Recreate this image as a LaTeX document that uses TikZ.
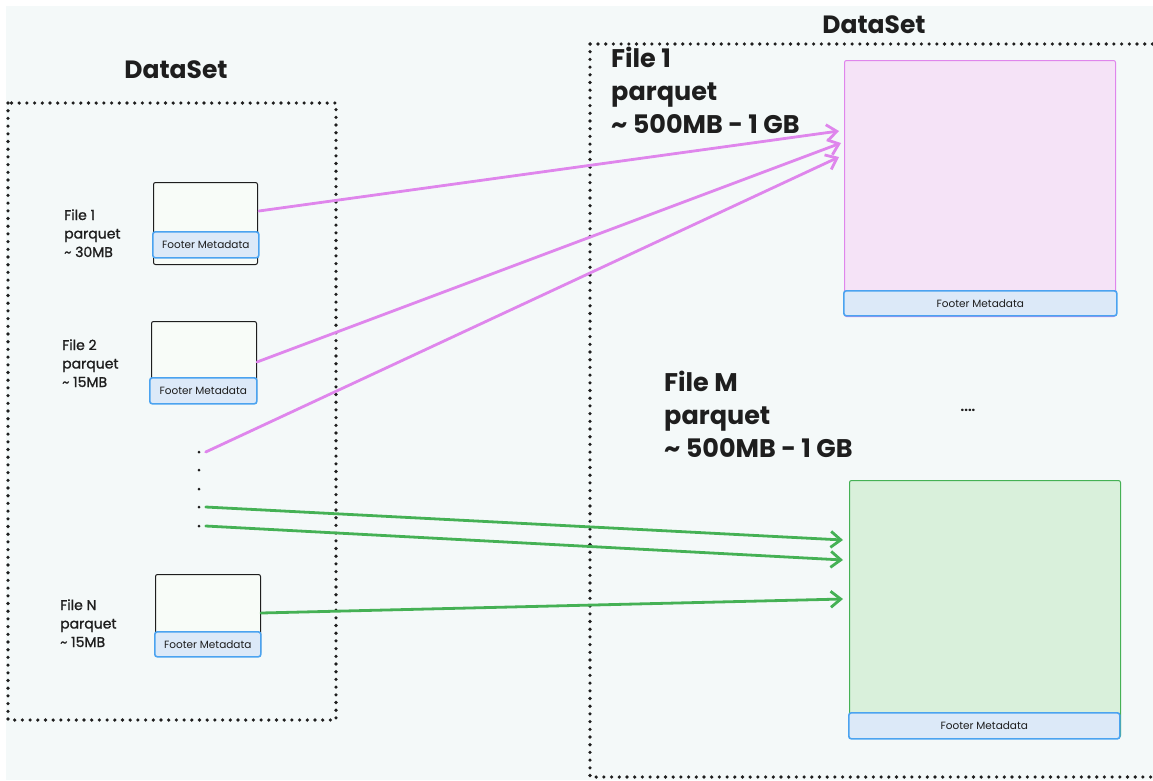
\documentclass[tikz,border=0pt]{standalone}
\usepackage{fontspec}
\setmainfont{Poppins}
\newfontfamily\labelfont{Poppins}[FakeBold=1.2]
\usetikzlibrary{arrows.meta,calc}
\definecolor{canvas}{HTML}{F4F9F9}
\definecolor{ink}{HTML}{1E1E1E}
\definecolor{filefill}{HTML}{F8FCF8}
\definecolor{footfill}{HTML}{DCE9F8}
\definecolor{footline}{HTML}{4BA3F0}
\definecolor{pinkline}{HTML}{DF86EC}
\definecolor{pinkfill}{HTML}{F5E3F7}
\definecolor{greenline}{HTML}{45B155}
\definecolor{greenfill}{HTML}{D9F0DB}
\begin{document}
\begin{tikzpicture}[x=1pt,y=-1pt,
  every node/.style={text=ink},
  dotframe/.style={draw=ink, line width=3.6pt, line cap=round, dash pattern=on 0pt off 7.7pt},
  filebox/.style={draw=ink, line width=1pt, fill=filefill, rounded corners=2pt, anchor=north west, inner sep=0pt},
  footer/.style={draw=footline, line width=1.6pt, fill=footfill, rounded corners=2.5pt, anchor=north west, inner sep=0pt, font=\fontsize{10.5}{12}\selectfont},
  bigpink/.style={draw=pinkline, line width=1pt, fill=pinkfill, rounded corners=2pt, anchor=north west, inner sep=0pt},
  biggreen/.style={draw=greenline, line width=1pt, fill=greenfill, rounded corners=2pt, anchor=north west, inner sep=0pt},
  smalllabel/.style={anchor=base west, align=left, inner sep=0pt, font=\labelfont\fontsize{14}{18.5}\selectfont},
  biglabel/.style={anchor=base west, align=left, inner sep=0pt, font=\fontsize{25.5}{33}\selectfont\bfseries},
  title/.style={anchor=base, inner sep=0pt, font=\fontsize{25}{30}\selectfont\bfseries},
  dotmark/.style={circle, fill=ink, inner sep=0pt, minimum size=3pt},
  link/.style={line width=2.8pt, line cap=round, -{Straight Barb[length=10pt,width=16pt]}},
  pinklink/.style={link, draw=pinkline},
  greenlink/.style={link, draw=greenline}]

\useasboundingbox (0,0) rectangle (1153,780);
\clip (0,0) rectangle (1153,780);
\fill[canvas] (6,6) rectangle (1153,780);

% dataset frames
\draw[dotframe] (8,103) rectangle (336,720);
\draw[dotframe] (590,44) rectangle (1170,777);

\node[title] (lefttitle) at (176,78) {DataSet};
\node[title] (righttitle) at (874,33) {DataSet};

% small files
\node[filebox, minimum width=104pt, minimum height=82pt] (f1) at (153,182) {};
\node[footer, minimum width=106pt, minimum height=26pt] (f1foot) at (152,231) {Footer Metadata};
\node[filebox, minimum width=105pt, minimum height=80pt] (f2) at (151,321) {};
\node[footer, minimum width=107pt, minimum height=26pt] (f2foot) at (149,377) {Footer Metadata};
\node[filebox, minimum width=105pt, minimum height=80pt] (fN) at (155,574) {};
\node[footer, minimum width=106pt, minimum height=25pt] (fNfoot) at (154,631) {Footer Metadata};

% labels are anchored at the baseline of their last line
\node[smalllabel] (l1) at (64,257) {File 1\\parquet\\\textasciitilde{} 30MB};
\node[smalllabel] (l2) at (62,387) {File 2\\parquet\\\textasciitilde{} 15MB};
\node[smalllabel] (lN) at (60,647) {File N\\parquet\\\textasciitilde{} 15MB};

% ellipsis dots
\node[dotmark] (d1) at (199,452) {};
\node[dotmark] (d2) at (199,470) {};
\node[dotmark] (d3) at (199,489) {};
\node[dotmark] (d4) at (199,507) {};
\node[dotmark] (d5) at (199,526) {};

% large files
\node[bigpink, minimum width=271pt, minimum height=256pt] (big1) at (844,60) {};
\node[footer, minimum width=273pt, minimum height=25pt] (big1foot) at (843,290) {Footer Metadata};
\node[biggreen, minimum width=271pt, minimum height=257pt] (bigM) at (849,480) {};
\node[footer, minimum width=271pt, minimum height=26pt] (bigMfoot) at (848,712) {Footer Metadata};

\node[biglabel] (lbig1) at (611,133) {File 1\\parquet\\\textasciitilde{} 500MB - 1 GB};
\node[biglabel] (lbigM) at (664,457) {File M\\parquet\\\textasciitilde{} 500MB - 1 GB};
\node[inner sep=0pt, font=\fontsize{13}{13}\selectfont\bfseries] (more) at (968,410) {....};

% connectors
\draw[pinklink] ($(f1.north east)+(1,29)$) -- ($(big1.north west)+(-5,71)$);
\draw[pinklink] ($(f2.north east)+(0,41)$) -- ($(big1.north west)+(-3,83)$);
\draw[pinklink] ($(d1.east)+(5,0)$) -- ($(big1.north west)+(-5,97)$);
\draw[greenlink] ($(d4.east)+(5,0)$) -- ($(bigM.north west)+(-6,60)$);
\draw[greenlink] ($(d5.east)+(5,0)$) -- ($(bigM.north west)+(-6,80)$);
\draw[greenlink] ($(fN.north east)+(0,39)$) -- ($(bigM.north west)+(-6,119)$);
\end{tikzpicture}
\end{document}
